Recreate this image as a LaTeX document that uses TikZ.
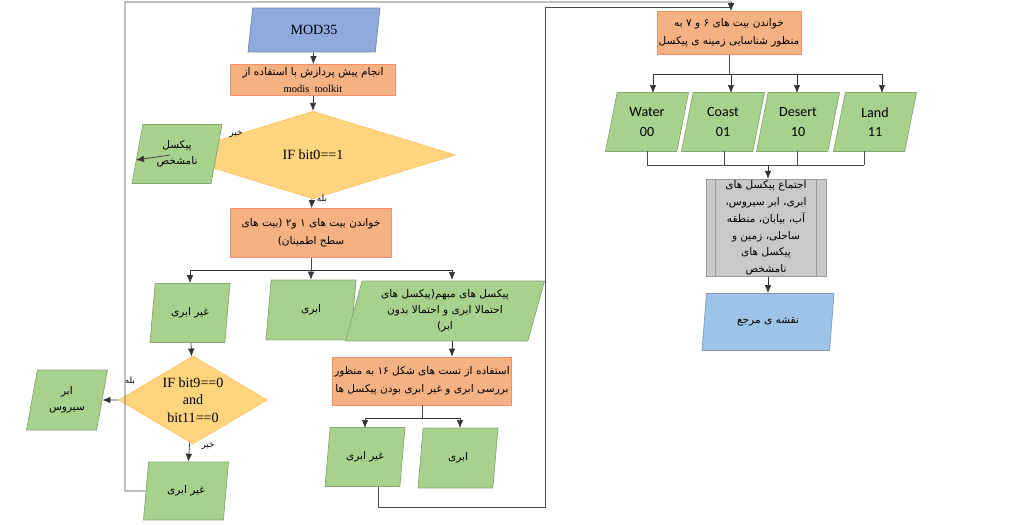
\documentclass[tikz,border=0pt]{standalone}
\usepackage{fontspec}
\setmainfont{Liberation Serif}
\newfontfamily\farsi[Script=Arabic]{DejaVu Sans}
\newfontfamily\carl{Carlito}
\TeXXeTstate=1
\usetikzlibrary{arrows.meta,shapes.geometric}
\definecolor{Cblue}{HTML}{8FAADC}
\definecolor{Cblue2}{HTML}{9DC3E6}
\definecolor{Corange}{HTML}{F4B183}
\definecolor{Cgreen}{HTML}{A9D18E}
\definecolor{Cyellow}{HTML}{FFD47F}
\definecolor{Cgray}{HTML}{C9C9C9}
\newcommand{\fa}[1]{{\farsi\beginR #1\endR}}
\tikzset{
  para/.style={trapezium, trapezium left angle=70, trapezium right angle=110,
    trapezium stretches body, draw=#1!80!black, fill=#1, align=center,
    inner sep=1pt, font=\fontsize{6}{9}\selectfont},
  proc/.style={rectangle, draw=Corange!80!red, fill=Corange, align=center,
    inner sep=1pt, font=\fontsize{6}{10}\selectfont},
  cond/.style={diamond, draw=Cyellow!80!orange, fill=Cyellow, aspect=1.95,
    align=center, inner sep=0pt, font=\fontsize{8}{10}\selectfont},
  flow/.style={-{Latex[length=1.6mm,width=1.3mm]}, black!80},
  wire/.style={black!70},
  tag/.style={font=\fontsize{5}{6}\selectfont}
}
\begin{document}
\begin{tikzpicture}[x=0.02cm,y=-0.02cm]
\useasboundingbox (0,0) rectangle (1024,524);

% left column
\node[para=Cblue, minimum width=2.64cm, minimum height=0.88cm, font=\fontsize{8}{10}\selectfont] (mod) at (314,30) {MOD35};
\node[proc, minimum width=3.3cm, minimum height=0.62cm] (pre) at (313,80) {\fa{انجام پیش پردازش با استفاده از}\\modis\ \ toolkit};
\node[cond, minimum width=5.7cm, minimum height=1.75cm] (ifa) at (313,155) {IF bit0==1};
\node[para=Cgreen, minimum width=1.8cm, minimum height=1.18cm] (nak) at (177,154) {\fa{پیکسل}\\\fa{نامشخص}};
\node[proc, minimum width=3.22cm, minimum height=0.98cm] (rd12) at (311,233) {\fa{خواندن بیت های ۱ و۲ (بیت های}\\\fa{سطح اطمینان)}};
\node[para=Cgreen, minimum width=1.6cm, minimum height=1.18cm] (nc1) at (190,313) {\fa{غیر ابری}};
\node[para=Cgreen, minimum width=1.8cm, minimum height=1.2cm] (cl1) at (311,310) {\fa{ابری}};
\node[para=Cgreen, minimum width=3.98cm, minimum height=1.2cm] (amb) at (445,311) {\fa{پیکسل های مبهم(پیکسل های}\\\fa{احتمالا ابری و احتمالا بدون}\\\fa{ابر)}};
\node[cond, minimum width=2.9cm, minimum height=1.76cm] (ifb) at (193,400) {IF bit9==0\\and\\bit11==0};
\node[para=Cgreen, minimum width=1.62cm, minimum height=1.2cm] (cir) at (67,400) {\fa{ابر}\\\fa{سیروس}};
\node[para=Cgreen, minimum width=1.7cm, minimum height=1.16cm] (nc2) at (186,491) {\fa{غیر ابری}};
\node[proc, minimum width=3.36cm, minimum height=0.96cm] (tst) at (422,381) {\fa{استفاده از تست های شکل ۱۶ به منظور}\\\fa{بررسی ابری و غیر ابری بودن پیکسل ها}};
\node[para=Cgreen, minimum width=1.6cm, minimum height=1.18cm] (nc3) at (365,457) {\fa{غیر ابری}};
\node[para=Cgreen, minimum width=1.6cm, minimum height=1.2cm] (cl2) at (458,458) {\fa{ابری}};

% right column
\node[proc, minimum width=2.76cm, minimum height=0.86cm] (rd67) at (729,33) {\fa{خواندن بیت های ۶ و ۷ به}\\\fa{منظور شناسایی زمینه ی پیکسل}};
\foreach \nm/\lbl/\code/\xx in {wat/Water/00/647, coa/Coast/01/723, des/Desert/10/798, lnd/Land/11/875}
  \node[para=Cgreen, minimum width=1.66cm, minimum height=1.18cm, font=\carl\fontsize{8}{11}\selectfont] (\nm) at (\xx,122) {\lbl\\\code};
\node[rectangle, draw=black!40, fill=Cgray, minimum width=2.4cm, minimum height=1.9cm, align=center, inner sep=1pt, font=\fontsize{6}{9.5}\selectfont] (gat) at (766,228)
  {\fa{اجتماع پیکسل های}\\\fa{ابری، ابر سیروس،}\\\fa{آب، بیابان، منطقه}\\\fa{ساحلی، زمین و}\\\fa{پیکسل های}\\\fa{نامشخص}};
\draw[black!40] ([xshift=0.2cm]gat.north west) -- ([xshift=0.2cm]gat.south west)
  ([xshift=-0.2cm]gat.north east) -- ([xshift=-0.2cm]gat.south east);
\node[para=Cblue2, minimum width=2.64cm, minimum height=1.14cm] (map) at (768,322) {\fa{نقشه ی مرجع}};

% connectors
\draw[flow] (mod) -- (pre);
\draw[flow] (pre) -- (ifa);
\draw[flow] (ifa) -- (rd12);
\draw[flow] (ifa.west) -- (nak);
\node[tag] (no1) at (236,134) {\fa{خیر}};
\node[tag] (yes1) at (322,199) {\fa{بله}};
\draw[wire] (rd12.south) -- (311,270) coordinate (sp);
\draw[flow] (sp) -| (nc1.north);
\draw[flow] (sp) -| (452,280);
\draw[flow] (sp) -- (cl1.north);
\draw[flow] (nc1) -- (ifb);
\draw[flow] (ifb.west) -- (cir);
\draw[flow] (ifb) -- (nc2);
\node[tag] (yes2) at (130,381) {\fa{بله}};
\node[tag] (no2) at (208,446) {\fa{خیر}};
\draw[flow] (452,341) -- (tst.north -| 452,0);
\draw[wire] (tst.south) -- (422,418) coordinate (sp2);
\draw[flow] (sp2) -| (365,428);
\draw[flow] (sp2) -| (460,428);
\draw[wire] (nc2.west) -- (125,491) -- (125,2) -- (731,2);
\draw[wire] (378,487) -- (378,507) -- (545,507) -- (545,7) -- (731,7);
\draw[flow] (731,2) -- (rd67.north -| 731,0);
\draw[wire] (rd67.south) -- (729,74) coordinate (sp3);
\foreach \nm/\xx in {wat/653, coa/731, des/797, lnd/882}
  \draw[flow] (sp3) -| (\xx,93);
\foreach \xx in {647, 724, 797, 864}
  \draw[wire] (\xx,151) -- (\xx,165);
\draw[wire] (647,165) -- (864,165);
\draw[flow] (768,165) -- (gat.north -| 768,0);
\draw[flow] (gat.south -| 768,0) -- (map.north -| 768,0);
\end{tikzpicture}
\end{document}
